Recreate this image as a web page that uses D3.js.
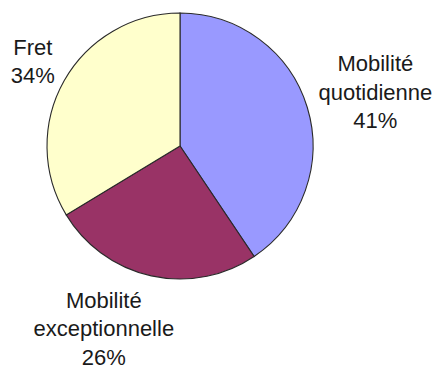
<!DOCTYPE html>
<html lang="fr">
<head>
<meta charset="UTF-8">
<script src="https://d3js.org/d3.v7.min.js"></script>
<style>
  body { margin: 0; padding: 0; background: #fff; }
  svg { display: block; }
  .lbl { font-family: "Liberation Sans", Arial, sans-serif; font-size: 22px; fill: #1a1a1a; }
</style>
</head>
<body>
<svg id="chart"></svg>
<script>
// data
const categories = ["Mobilité quotidienne", "Mobilité exceptionnelle", "Fret"];
const labelLines = [["Mobilité", "quotidienne"], ["Mobilité", "exceptionnelle"], ["Fret"]];
const values = [41, 26, 34];
const colors = ["#9999ff", "#993366", "#ffffcc"];

const width = 436, height = 369;
const cx = 180, cy = 146, radius = 133;
const labelRadius = 200;
const lineH = 28.5;
// small nudges for each label, like Excel placed them
const labelNudge = [[4, 12], [-33, -5], [27, 21]];

const svg = d3.select("#chart").attr("width", width).attr("height", height);
const g = svg.append("g").attr("transform", `translate(${cx},${cy})`);

const data = categories.map((c, i) => ({ name: c, value: values[i], i }));
const pie = d3.pie().value(d => d.value).sort(null);
const arc = d3.arc().innerRadius(0).outerRadius(radius);
const arcs = pie(data);

g.selectAll("path")
  .data(arcs)
  .enter()
  .append("path")
  .attr("d", arc)
  .attr("fill", d => colors[d.data.i])
  .attr("stroke", "#2a2a2a")
  .attr("stroke-width", 1.1);

arcs.forEach(d => {
  const a = (d.startAngle + d.endAngle) / 2;
  const x = labelRadius * Math.sin(a) + labelNudge[d.data.i][0];
  const y = -labelRadius * Math.cos(a) + labelNudge[d.data.i][1];
  const lines = labelLines[d.data.i].concat([d.data.value + "%"]);
  const t = g.append("text").attr("class", "lbl").attr("text-anchor", "middle");
  const first = -(lines.length - 1) / 2 * lineH;
  lines.forEach((s, k) => {
    t.append("tspan").attr("x", x).attr("y", y + first + k * lineH).text(s);
  });
});
</script>
</body>
</html>
